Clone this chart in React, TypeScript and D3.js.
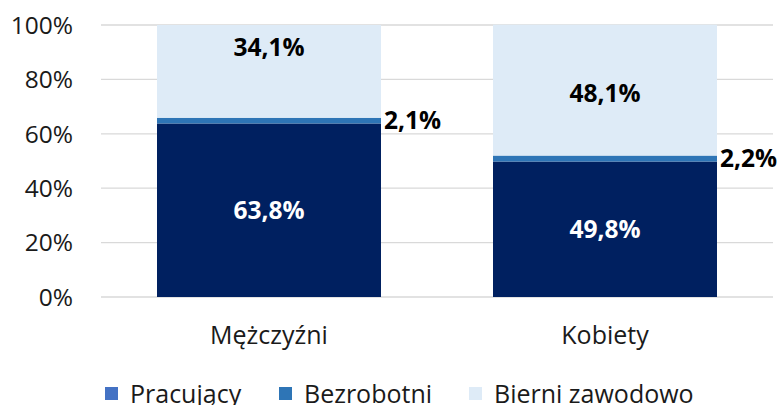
import React from 'react';
import * as d3 from 'd3';

const categories = ['Mężczyźni', 'Kobiety'];
const seriesNames = ['Pracujący', 'Bezrobotni', 'Bierni zawodowo'];
const pracujacy = [63.8, 49.8];
const bezrobotni = [2.1, 2.2];
const bierni = [34.1, 48.1];
const yTicks = [0, 20, 40, 60, 80, 100];

const barColors = ['#002060', '#2E75B6', '#DEEBF7'];
const legendColors = ['#4472C4', '#2E75B6', '#DEEBF7'];
const labelColors = ['#ffffff', '#000000', '#000000'];
const FONT = '"Open Sans", "Noto Sans", sans-serif';

const fmt = (v: number) => v.toFixed(1).replace('.', ',') + '%';

export default function App() {
  const width = 779;
  const height = 405;
  const margin = { top: 25, right: 6, bottom: 108, left: 101 };

  const x = d3.scaleBand<string>()
    .domain(categories)
    .range([margin.left, width - margin.right])
    .paddingInner(1 / 3)
    .paddingOuter(1 / 6);

  const y = d3.scaleLinear()
    .domain([0, 100])
    .range([height - margin.bottom, margin.top]);

  const data = categories.map((c, i) => ({
    cat: c,
    values: [pracujacy[i], bezrobotni[i], bierni[i]],
  }));

  // label nudges for the "bierni" labels, as placed in the original chart
  const biernyShift = [-24, 3];

  return (
    <svg width={width} height={height} style={{ position: 'absolute', left: 0, top: 0 }} fontFamily={FONT}>
      {yTicks.map(t => (
        <g key={t}>
          <line x1={margin.left} x2={width - margin.right} y1={y(t)} y2={y(t)} stroke="#d9d9d9" strokeWidth={1.3} />
          <text x={73} y={y(t)} dy="0.36em" textAnchor="end" fontSize={24.5} fill="#1a1a1a">{t}%</text>
        </g>
      ))}

      {data.map(d => {
        let acc = 0;
        const bx = x(d.cat)!;
        const bw = x.bandwidth();
        return (
          <g key={d.cat}>
            {d.values.map((v, s) => {
              const y0 = acc;
              acc += v;
              return (
                <rect key={s} x={bx} width={bw} y={y(acc)} height={y(y0) - y(acc)} fill={barColors[s]} />
              );
            })}
          </g>
        );
      })}

      {data.map((d, i) => {
        const bx = x(d.cat)!;
        const bw = x.bandwidth();
        const [p, b, n] = d.values;
        return (
          <g key={'l' + d.cat} fontWeight="bold" fontSize={24.5}>
            <text x={bx + bw / 2} y={y(p / 2)} dy="0.36em" textAnchor="middle" fill={labelColors[0]}>{fmt(p)}</text>
            <text x={bx + bw + 3} y={y(p + b / 2)} dy="0.36em" textAnchor="start" fill={labelColors[1]}>{fmt(b)}</text>
            <text x={bx + bw / 2} y={y(p + b + n / 2) + biernyShift[i]} dy="0.36em" textAnchor="middle" fill={labelColors[2]}>{fmt(n)}</text>
          </g>
        );
      })}

      {categories.map(c => (
        <text key={c} x={x(c)! + x.bandwidth() / 2} y={335} dy="0.36em" textAnchor="middle" fontSize={25} fill="#1a1a1a">{c}</text>
      ))}

      {seriesNames.map((s, i) => {
        const lx = [105, 279, 469][i];
        return (
          <g key={s}>
            <rect x={lx} y={387} width={13} height={13} fill={legendColors[i]} />
            <text x={lx + 25} y={403} fontSize={25} fill="#1a1a1a">{s}</text>
          </g>
        );
      })}
    </svg>
  );
}
